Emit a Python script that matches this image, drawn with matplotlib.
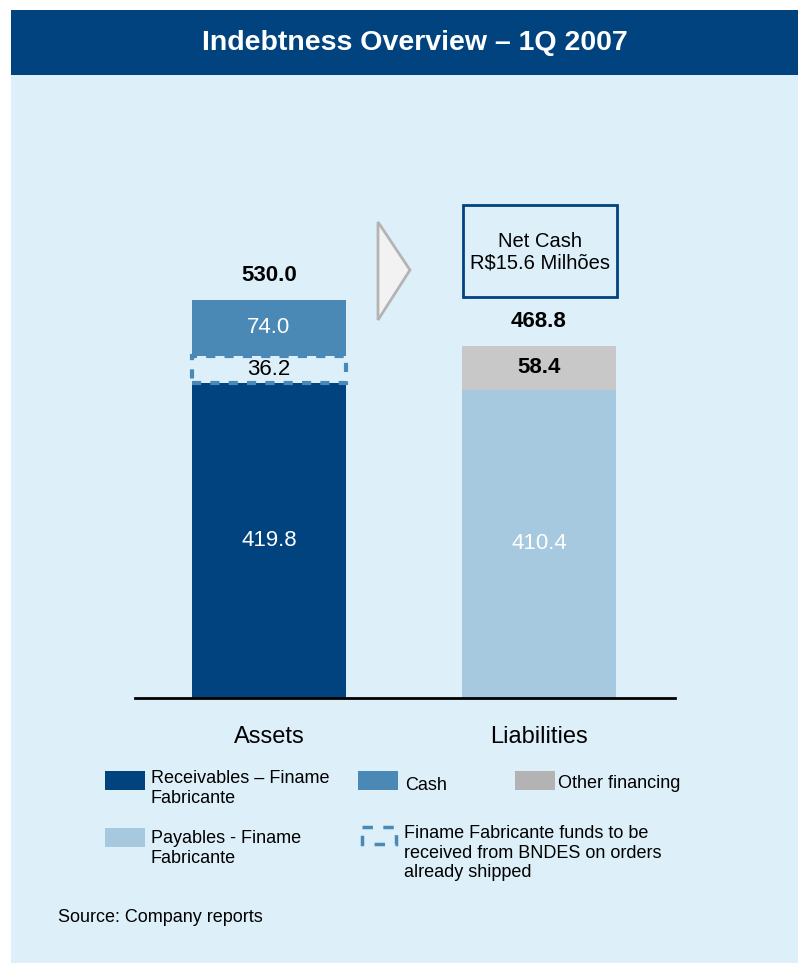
import matplotlib
matplotlib.use("Agg")
import matplotlib.pyplot as plt
from matplotlib.patches import Rectangle, Polygon

plt.rcParams["font.family"] = ["Liberation Sans", "DejaVu Sans"]

# values in R$ million
categories = ["Assets", "Liabilities"]
receivables = [419.8, 0.0]      # Receivables - Finame Fabricante
bndes_funds = [36.2, 0.0]       # funds to be received from BNDES
cash = [74.0, 0.0]
payables = [0.0, 410.4]         # Payables - Finame Fabricante
other_financing = [0.0, 58.4]
net_cash_label = "Net Cash\nR$15.6 Milhões"

NAVY = "#00437f"
CASH = "#4a89b5"
LIGHT = "#a6c9df"
GREY = "#c8c8c8"
BG = "#ddf0fa"

W, H = 798, 965
fig = plt.figure(figsize=(W / 100, H / 100), dpi=100, facecolor="white")

# background layer in pixel coordinates
bg = fig.add_axes([0, 0, 1, 1], zorder=0)
bg.set_xlim(0, W); bg.set_ylim(H, 0); bg.axis("off")
bg.add_patch(Rectangle((11, 75), W - 11, 888, facecolor=BG, edgecolor="none"))
bg.add_patch(Rectangle((11, 10), W - 11, 65, facecolor=NAVY, edgecolor="none"))
bg.text(415, 43, "Indebtness Overview – 1Q 2007", color="white", fontsize=20.5,
        fontweight="bold", ha="center", va="center")

# chart axes: baseline at y=698 px, x from 135 to 675 px
left, right, base, top = 135, 675, 698, 150
ax = fig.add_axes([left / W, (H - base) / H, (right - left) / W, (base - top) / H], zorder=1)
ax.patch.set_alpha(0)
x = [0, 1]
bw = 0.57
ax.set_xlim(-0.496, 1.504)
ax.set_ylim(0, 730)

ax.bar(x[0], receivables[0], bw, color=NAVY, zorder=2)
ax.bar(x[0], bndes_funds[0], bw, bottom=receivables[0], facecolor=BG,
       edgecolor=CASH, linestyle=(0, (2.2, 2.2)), linewidth=3, zorder=3)
ax.bar(x[0], cash[0], bw, bottom=receivables[0] + bndes_funds[0], color=CASH, zorder=2)
ax.bar(x[1], payables[1], bw, color=LIGHT, zorder=2)
ax.bar(x[1], other_financing[1], bw, bottom=payables[1], color=GREY, zorder=2)

# segment labels
ax.text(x[0], receivables[0] / 2, f"{receivables[0]:.1f}", color="white", fontsize=16,
        ha="center", va="center", zorder=4)
ax.text(x[0], receivables[0] + bndes_funds[0] / 2, f"{bndes_funds[0]:.1f}", color="black",
        fontsize=16, ha="center", va="center", zorder=4)
ax.text(x[0], receivables[0] + bndes_funds[0] + cash[0] / 2, f"{cash[0]:.1f}", color="white",
        fontsize=16, ha="center", va="center", zorder=4)
ax.text(x[1], payables[1] / 2, f"{payables[1]:.1f}", color="white", fontsize=16,
        ha="center", va="center", zorder=4)
ax.text(x[1], payables[1] + other_financing[1] / 2, f"{other_financing[1]:.1f}", color="black",
        fontsize=16, fontweight="bold", ha="center", va="center", zorder=4)

# totals on top of each bar
totals = [receivables[0] + bndes_funds[0] + cash[0], payables[1] + other_financing[1]]
for xi, t in zip(x, totals):
    ax.annotate(f"{t:.1f}", (xi, t), xytext=(0, 10), textcoords="offset points",
                ha="center", va="bottom", fontsize=16, fontweight="bold")

for s in ["top", "left", "right"]:
    ax.spines[s].set_visible(False)
ax.spines["bottom"].set_linewidth(2)
ax.set_yticks([])
ax.set_xticks(x)
ax.set_xticklabels(categories, fontsize=17)
ax.tick_params(axis="x", length=0, pad=20)

# arrow and net cash box
bg.add_patch(Polygon([(378, 222), (410, 270), (378, 320)], closed=True,
                     facecolor="#f2f2f2", edgecolor="#b4b4b4", linewidth=2, zorder=2))
bg.add_patch(Rectangle((463, 205), 154, 92, facecolor="none", edgecolor=NAVY,
                       linewidth=2, zorder=2))
bg.text(540, 252, net_cash_label, fontsize=14.5, ha="center", va="center",
        linespacing=1.15, zorder=3)

# legend
def swatch(x0, y0, color):
    bg.add_patch(Rectangle((x0, y0), 40, 19, facecolor=color, edgecolor="none", zorder=2))

swatch(105, 771, NAVY)
bg.text(151, 770, "Receivables – Finame\nFabricante", fontsize=13, va="top", linespacing=1.2)
swatch(358, 771, CASH)
bg.text(405, 785, "Cash", fontsize=13, va="center")
swatch(515, 771, "#b3b3b3")
bg.text(558, 783, "Other financing", fontsize=13, va="center")
swatch(105, 828, LIGHT)
bg.text(151, 830, "Payables - Finame\nFabricante", fontsize=13, va="top", linespacing=1.2)
bg.add_patch(Rectangle((362, 827), 34, 17, facecolor="none", edgecolor=CASH,
                       linestyle=(0, (3, 3)), linewidth=2.5, zorder=2))
bg.text(404, 825, "Finame Fabricante funds to be\nreceived from BNDES on orders\nalready shipped",
        fontsize=13, va="top", linespacing=1.2)

bg.text(58, 917, "Source: Company reports", fontsize=13, va="center")

fig.savefig("out.png", dpi=100, facecolor="white")
